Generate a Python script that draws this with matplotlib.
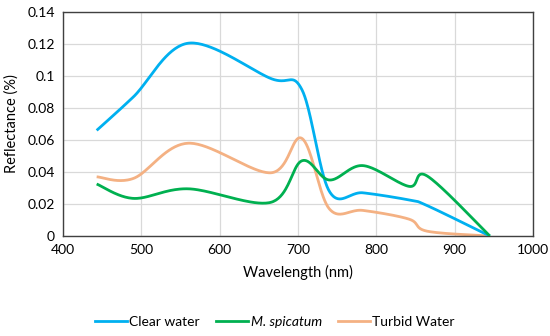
import numpy as np
import matplotlib
matplotlib.use("Agg")
import matplotlib.pyplot as plt
from matplotlib.lines import Line2D

wavelength = [443, 490, 560, 665, 705, 740, 783, 842, 865, 945]
clear_water = [0.066, 0.087, 0.1205, 0.0985, 0.0915, 0.028, 0.027, 0.0225, 0.019, 0.0]
m_spicatum = [0.0325, 0.0235, 0.0295, 0.021, 0.047, 0.035, 0.044, 0.031, 0.0375, 0.0]
turbid_water = [0.037, 0.036, 0.058, 0.0395, 0.061, 0.017, 0.016, 0.0105, 0.003, 0.0]

x_ticks = [400, 500, 600, 700, 800, 900, 1000]
y_ticks = [0, 0.02, 0.04, 0.06, 0.08, 0.1, 0.12, 0.14]
y_tick_labels = ["0", "0.02", "0.04", "0.06", "0.08", "0.1", "0.12", "0.14"]


def smooth(xs, ys, sx=600.0, sy=0.14, n=40):
    # Excel-style smoothed line: cubic Bezier with Catmull-Rom control points
    P = np.column_stack([np.asarray(xs, float) / sx, np.asarray(ys, float) / sy])
    out = []
    m = len(P)
    for i in range(m - 1):
        p0 = P[i - 1] if i > 0 else P[i]
        p1 = P[i]
        p2 = P[i + 1]
        p3 = P[i + 2] if i + 2 < m else P[i + 1]
        c1 = p1 + (p2 - p0) / 6.0
        c2 = p2 - (p3 - p1) / 6.0
        t = np.linspace(0, 1, n)[:, None]
        seg = ((1 - t) ** 3) * p1 + 3 * ((1 - t) ** 2) * t * c1 + 3 * (1 - t) * t ** 2 * c2 + t ** 3 * p2
        out.append(seg if i == 0 else seg[1:])
    B = np.vstack(out)
    return B[:, 0] * sx, B[:, 1] * sy


plt.rcParams['font.family'] = ['Lato', 'DejaVu Sans']

fig = plt.figure(figsize=(5.5, 3.36), dpi=100)
ax = fig.add_axes([0.1145, 0.2976, 0.8545, 0.6667])

colors = {"clear": "#00b0f0", "m": "#00b050", "turbid": "#f4b183"}
lw = 2.0

sx, sy = smooth(wavelength, clear_water)
ax.plot(sx, sy, color=colors["clear"], lw=lw, solid_capstyle='butt', zorder=3)
sx, sy = smooth(wavelength, m_spicatum)
ax.plot(sx, sy, color=colors["m"], lw=lw, solid_capstyle='butt', zorder=4)
sx, sy = smooth(wavelength, turbid_water)
ax.plot(sx, sy, color=colors["turbid"], lw=lw, solid_capstyle='butt', zorder=2)

ax.set_xlim(400, 1000)
ax.set_ylim(0, 0.14)
ax.set_xticks(x_ticks)
ax.set_xticklabels([str(v) for v in x_ticks])
ax.set_yticks(y_ticks)
ax.set_yticklabels(y_tick_labels)
ax.grid(True, color="#d9d9d9", lw=0.9)
ax.set_axisbelow(True)
for s in ax.spines.values():
    s.set_color("#404040")
    s.set_linewidth(1.0)
ax.tick_params(length=0, labelsize=10, colors="#000000", pad=6)
ax.set_xlabel("Wavelength (nm)", fontsize=10.5, labelpad=6)
ax.set_ylabel("Reflectance (%)", fontsize=10.5, labelpad=6)

handles = [Line2D([0], [0], color=colors["clear"], lw=2),
           Line2D([0], [0], color=colors["m"], lw=2),
           Line2D([0], [0], color=colors["turbid"], lw=2)]
leg = fig.legend(handles, ["Clear water", "M. spicatum", "Turbid Water"],
                 loc="center", bbox_to_anchor=(0.5, 0.042), ncol=3, frameon=False,
                 fontsize=10, handlelength=2.3, handletextpad=0.15, columnspacing=1.2)
leg.get_texts()[1].set_fontstyle("italic")

fig.savefig("out.png", dpi=100)
